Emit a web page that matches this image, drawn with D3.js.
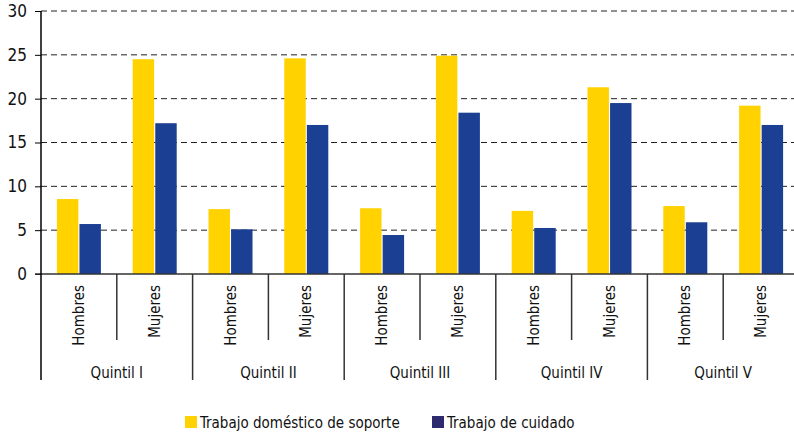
<!DOCTYPE html>
<html>
<head>
<meta charset="utf-8">
<script src="https://cdn.jsdelivr.net/npm/d3@7"></script>
<style>
  body { margin: 0; background: #fff; }
  svg { display: block; font-family: "DejaVu Sans Condensed", "Liberation Sans", sans-serif; }
</style>
</head>
<body>
<div id="vis"></div>
<script>
const FRAME_WIDTH = 794;
const FRAME_HEIGHT = 433;
const MARGINS = {left: 41, right: -5, top: 11, bottom: 159};

const VIS_WIDTH = FRAME_WIDTH - MARGINS.left - MARGINS.right;
const VIS_HEIGHT = FRAME_HEIGHT - MARGINS.top - MARGINS.bottom;

// data
const quintiles = ["Quintil I", "Quintil II", "Quintil III", "Quintil IV", "Quintil V"];
const sexes = ["Hombres", "Mujeres"];
const seriesNames = ["Trabajo doméstico de soporte", "Trabajo de cuidado"];
const soporte = [8.55, 24.5, 7.4, 24.6, 7.5, 24.9, 7.2, 21.3, 7.75, 19.2];
const cuidado = [5.7, 17.2, 5.1, 17.0, 4.45, 18.4, 5.25, 19.5, 5.9, 17.0];
const yTicks = [0, 5, 10, 15, 20, 25, 30];

const barColors = ["#ffd200", "#1b3f92"];
const legendColors = ["#ffd200", "#2d2a6e"];

const cats = [];
quintiles.forEach(q => sexes.forEach(s => cats.push(q + "|" + s)));

const rows = cats.map((c, i) => ({cat: c, vals: [soporte[i], cuidado[i]]}));

const svg = d3.select("#vis").append("svg")
  .attr("width", FRAME_WIDTH)
  .attr("height", FRAME_HEIGHT);

const g = svg.append("g")
  .attr("transform", `translate(${MARGINS.left},${MARGINS.top})`);

const x = d3.scaleBand().domain(cats).range([0, VIS_WIDTH]);
const xq = d3.scaleBand().domain(quintiles).range([0, VIS_WIDTH]);
const y = d3.scaleLinear().domain([0, 30]).range([VIS_HEIGHT, 0]);

// dashed grid
g.selectAll(".grid")
  .data(yTicks.filter(d => d > 0))
  .join("line")
    .attr("x1", 0)
    .attr("x2", VIS_WIDTH)
    .attr("y1", d => y(d))
    .attr("y2", d => y(d))
    .attr("stroke", "#222")
    .attr("stroke-width", 1)
    .attr("stroke-dasharray", "6,4");

// y axis
const yAxis = g.append("g")
  .call(d3.axisLeft(y).tickValues(yTicks).tickSize(6).tickPadding(8));
yAxis.select(".domain").remove();
yAxis.selectAll("line").attr("stroke", "#000");
yAxis.selectAll("text").attr("font-size", 17).attr("fill", "#111")
  .attr("font-family", "DejaVu Sans Condensed, sans-serif");

// bars
const inner = d3.scaleBand().domain([0, 1]).range([0, 44]).paddingInner(0.05);
const grp = g.selectAll(".cat")
  .data(rows)
  .join("g")
    .attr("transform", d => `translate(${x(d.cat) + x.bandwidth() / 2 - 22},0)`);
grp.selectAll("rect")
  .data(d => d.vals.map((v, i) => ({v, i})))
  .join("rect")
    .attr("x", d => inner(d.i))
    .attr("width", inner.bandwidth())
    .attr("y", d => y(d.v))
    .attr("height", d => VIS_HEIGHT - y(d.v))
    .attr("fill", d => barColors[d.i]);

// x axis line and left axis line
g.append("line")
  .attr("x1", -6).attr("x2", VIS_WIDTH)
  .attr("y1", VIS_HEIGHT).attr("y2", VIS_HEIGHT)
  .attr("stroke", "#333").attr("stroke-width", 1.5);
g.append("line")
  .attr("x1", 0).attr("x2", 0)
  .attr("y1", 0).attr("y2", VIS_HEIGHT + 106)
  .attr("stroke", "#000").attr("stroke-width", 1.5);

// separators between sexes and quintiles
g.selectAll(".sep")
  .data(cats.slice(1))
  .join("line")
    .attr("x1", d => x(d)).attr("x2", d => x(d))
    .attr("y1", VIS_HEIGHT)
    .attr("y2", d => d.endsWith("Hombres") ? VIS_HEIGHT + 106 : VIS_HEIGHT + 66)
    .attr("stroke", "#333").attr("stroke-width", 1.5);

// sex labels, rotated
g.selectAll(".sexlab")
  .data(cats)
  .join("text")
    .attr("transform", d => `translate(${x(d) + x.bandwidth() / 2 + 5},${VIS_HEIGHT + 11}) rotate(-90)`)
    .attr("text-anchor", "end")
    .attr("font-size", 15)
    .attr("fill", "#111")
    .text(d => d.split("|")[1]);

// quintile labels
g.selectAll(".qlab")
  .data(quintiles)
  .join("text")
    .attr("x", d => xq(d) + xq.bandwidth() / 2)
    .attr("y", VIS_HEIGHT + 104)
    .attr("text-anchor", "middle")
    .attr("font-size", 15)
    .attr("fill", "#111")
    .text(d => d);

// legend
const legX = [185, 432];
const leg = svg.selectAll(".leg")
  .data(seriesNames)
  .join("g")
    .attr("transform", (d, i) => `translate(${legX[i]},416)`);
leg.append("rect")
  .attr("width", 12).attr("height", 12)
  .attr("fill", (d, i) => legendColors[i]);
leg.append("text")
  .attr("x", 15).attr("y", 12)
  .attr("font-size", 15)
  .attr("fill", "#111")
  .text(d => d);
</script>
</body>
</html>
